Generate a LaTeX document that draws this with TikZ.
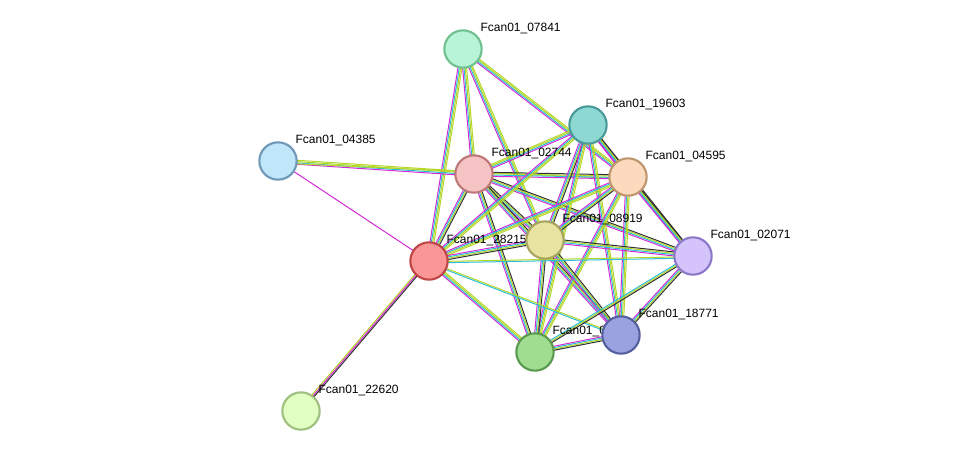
\documentclass[tikz,border=0pt]{standalone}
\usepackage{fontspec}
\setmainfont{Liberation Sans}
\usetikzlibrary{calc}
\definecolor{eM}{RGB}{214,40,214}
\definecolor{eC}{RGB}{40,190,220}
\definecolor{eY}{RGB}{180,215,40}
\definecolor{eK}{RGB}{50,50,50}
\tikzset{
  prot/.style={circle, draw, line width=1.6pt, minimum size=28pt, inner sep=0pt},
  lbl/.style={anchor=south west, font=\fontsize{9}{10}\selectfont, inner sep=1pt},
  ln/.style={line width=0.75pt}
}
% bundle of coloured lines between two nodes
\newcommand{\edge}[3]{%
  \foreach \c [count=\i] in {#3} {
    \pgfmathsetmacro{\o}{(\i-2.5)*1.0}
    \draw[ln, \c] ($(#1)!\o pt!90:(#2)$) -- ($(#2)!\o pt!-90:(#1)$);
  }}
% protein node with label
\newcommand{\prot}[4]{%
  \definecolor{bd#1}{RGB}{#3}\definecolor{fl#1}{RGB}{#4}%
  \node[prot, draw=bd#1, fill=fl#1] (p#1) at (n#1) {};
  \node[lbl] at ([xshift=12pt,yshift=10pt]n#1) {#2};}
\begin{document}
\begin{tikzpicture}[x=0.75pt, y=-0.75pt]
  \useasboundingbox[fill=white] (0,0) rectangle (975,458);

  % positions
  \coordinate (n07841) at (463,49);
  \coordinate (n19603) at (588,125);
  \coordinate (n04385) at (278,161);
  \coordinate (n02744) at (474,174);
  \coordinate (n04595) at (628,177);
  \coordinate (n08919) at (545,240);
  \coordinate (n28215) at (429,261);
  \coordinate (n02071) at (693,256);
  \coordinate (n18771) at (621,335);
  \coordinate (n0green) at (535,352);
  \coordinate (n22620) at (301,411);

  % connectors
  \edge{n07841}{n02744}{eM,eC,eY,eY}
  \edge{n07841}{n28215}{eM,eC,eY,eY}
  \edge{n07841}{n08919}{eM,eC,eY,eY}
  \edge{n07841}{n04595}{eM,eC,eY,eY}
  \edge{n04385}{n02744}{eM,eC,eY,eY}
  \edge{n04385}{n04595}{eY}
  \draw[ln, eM] (n04385) -- (n28215);
  \edge{n02744}{n19603}{eM,eC,eY,eY}
  \edge{n02744}{n04595}{eM,eC,eY,eK}
  \edge{n02744}{n08919}{eM,eC,eY,eK}
  \edge{n02744}{n28215}{eM,eC,eY,eK}
  \edge{n02744}{n02071}{eM,eC,eY,eK}
  \edge{n02744}{n18771}{eM,eC,eY,eK}
  \edge{n02744}{n0green}{eM,eC,eY,eK}
  \edge{n19603}{n04595}{eM,eC,eY,eK}
  \edge{n19603}{n08919}{eM,eC,eY,eK}
  \edge{n19603}{n28215}{eM,eC,eY,eY}
  \edge{n19603}{n02071}{eM,eC,eY,eK}
  \edge{n19603}{n18771}{eM,eC,eY,eY}
  \edge{n19603}{n0green}{eM,eC,eY,eY}
  \edge{n04595}{n08919}{eM,eC,eY,eK}
  \edge{n04595}{n28215}{eM,eC,eY,eY}
  \edge{n04595}{n02071}{eM,eC,eY,eK}
  \edge{n04595}{n18771}{eM,eC,eY,eY}
  \edge{n04595}{n0green}{eM,eC,eY,eY}
  \edge{n08919}{n28215}{eM,eC,eY,eK}
  \edge{n08919}{n02071}{eM,eC,eY,eK}
  \edge{n08919}{n18771}{eM,eC,eY,eK}
  \edge{n08919}{n0green}{eM,eC,eY,eK}
  \edge{n28215}{n02071}{eC,eY}
  \edge{n28215}{n18771}{eC,eY}
  \edge{n28215}{n0green}{eM,eC,eY,eY}
  \edge{n28215}{n22620}{eY,eM,eK}
  \edge{n02071}{n18771}{eM,eC,eY,eK}
  \edge{n02071}{n0green}{eC,eY,eK}
  \edge{n18771}{n0green}{eM,eC,eY,eK}

  % proteins
  \prot{07841}{Fcan01\_07841}{112,192,144}{184,245,216}
  \prot{19603}{Fcan01\_19603}{74,154,152}{142,216,212}
  \prot{04385}{Fcan01\_04385}{112,152,184}{192,230,250}
  \prot{02744}{Fcan01\_02744}{190,120,120}{245,195,195}
  \prot{04595}{Fcan01\_04595}{190,150,110}{252,218,190}
  \prot{28215}{Fcan01\_28215}{190,70,70}{250,150,150}
  \prot{08919}{Fcan01\_08919}{168,164,96}{230,228,160}
  \prot{02071}{Fcan01\_02071}{140,120,200}{212,196,251}
  \prot{0green}{Fcan01\_06014}{90,154,80}{160,221,144}
  \prot{18771}{Fcan01\_18771}{85,96,160}{154,163,224}
  \prot{22620}{Fcan01\_22620}{160,192,128}{224,255,192}
\end{tikzpicture}
\end{document}
